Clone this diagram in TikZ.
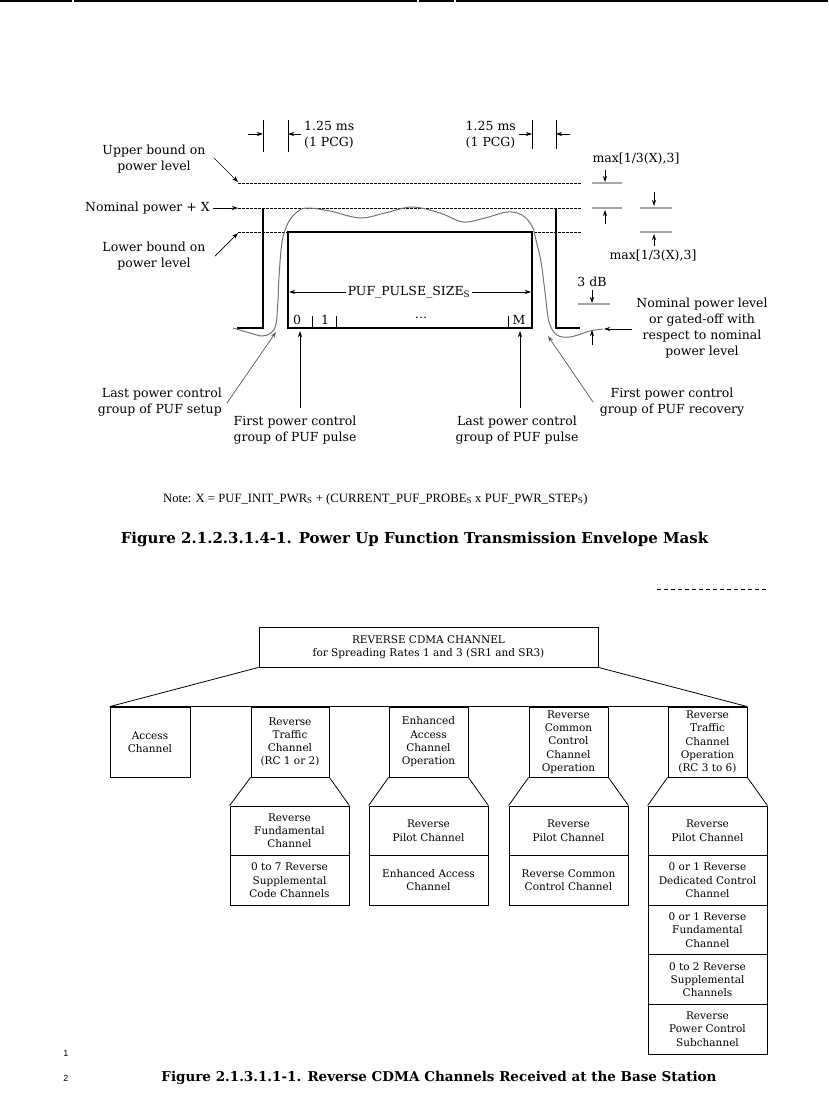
\documentclass[tikz,border=0pt]{standalone}
\usepackage{fontspec}
\setmainfont{DejaVu Serif}
\newfontfamily\timesf{Liberation Serif}
\newfontfamily\sansf{Liberation Sans}
\usetikzlibrary{arrows.meta}
\begin{document}
\begin{tikzpicture}[x=1pt,y=-1pt,
  thk/.style={line width=2pt},
  thn/.style={line width=0.8pt},
  dsh/.style={line width=0.8pt, dash pattern=on 2.5pt off 1.5pt},
  gryl/.style={line width=1.2pt, black!35},
  crv/.style={line width=1pt, black!55},
  arr/.style={line width=0.7pt, -{Stealth[length=6pt,width=4pt]}},
  garr/.style={line width=0.7pt, black!65, -{Stealth[length=6pt,width=4pt]}},
  tl/.style={font=\fontsize{12.5}{16}\selectfont, inner sep=0pt, align=center},
  bx/.style={draw, line width=0.8pt, font=\fontsize{10.5}{13.3}\selectfont, align=center, inner sep=0pt},
  figcap/.style={font=\bfseries\fontsize{13.5}{16}\selectfont, inner sep=0pt},
]
\useasboundingbox (0,0) rectangle (828,1098);
\fill[white] (0,0) rectangle (828,1098);

% header rule
\draw[line width=1.5pt] (0,1)--(72,1) (74,1)--(417,1) (419,1)--(454,1) (456,1)--(828,1);

% ===== top figure =====
\draw[thn] (263,120)--(263,152) (288,120)--(288,152) (532,120)--(532,149) (556,120)--(556,149);
\coordinate (tkA) at (263,134); \coordinate (tkB) at (288,134);
\coordinate (tkC) at (532,134); \coordinate (tkD) at (556,134);
\draw[arr] ([xshift=-15pt]tkA) -- (tkA);
\draw[arr] ([xshift=13pt]tkB) -- (tkB);
\draw[arr] ([xshift=-13pt]tkC) -- (tkC);
\draw[arr] ([xshift=14pt]tkD) -- (tkD);
\node[tl, anchor=west, align=left] (pcgL) at (304,135) {1.25 ms\\(1 PCG)};
\node[tl, anchor=east, align=left] (pcgR) at (516,135) {1.25 ms\\(1 PCG)};

\draw[dsh] (238,183)--(582,183);
\draw[dsh] (238,208)--(582,208);
\draw[dsh] (238,232)--(582,232);

\node[tl] (ub) at (154,159) {Upper bound on\\power level};
\node[tl, anchor=east] (npx) at (210,208) {Nominal power + X};
\node[tl] (lb) at (154,256) {Lower bound on\\power level};
\coordinate (ubT) at (238,182); \coordinate (npxT) at (238,208); \coordinate (lbT) at (238,233);
\draw[arr] (214,158) -- (ubT);
\draw[arr] (npx.east) ++(3,0) -- (npxT);
\draw[arr] (215,256) -- (lbT);

\draw[thk] (263,208)--(263,328)--(237,328);
\draw[thk] (556,208)--(556,328)--(580,328);
\draw[thk] (288,232) rectangle (532,328);

\draw[crv] plot[smooth, tension=0.55] coordinates {(233,328) (250,333) (262,336) (271,333) (276,324) (278,300) (279,277) (282,242) (288,223) (297,212) (307,208) (330,211) (360,218) (385,213) (412,207) (440,213) (463,222) (485,218) (507,212) (522,215) (532,226) (536,240) (541,262) (545,292) (549,322) (557,335) (570,337) (590,331) (603,329)};

\node[tl] (mx1) at (636,159) {max[1/3(X),3]};
\draw[gryl] (592,183)--(622,183) (592,208)--(622,208);
\draw[gryl] (640,208)--(672,208) (640,232)--(672,232);
\coordinate (d1a) at (605,183); \coordinate (d1b) at (605,208);
\coordinate (d2a) at (654,208); \coordinate (d2b) at (654,232);
\draw[arr] ([yshift=13pt]d1a) -- ([yshift=1pt]d1a);
\draw[arr] ([yshift=-16pt]d1b) -- ([yshift=-2pt]d1b);
\draw[arr] ([yshift=16pt]d2a) -- ([yshift=2pt]d2a);
\draw[arr] ([yshift=-14pt]d2b) -- ([yshift=-2pt]d2b);
\node[tl] (mx2) at (653,256) {max[1/3(X),3]};

\node[tl] (db3) at (592,282) {3 dB};
\draw[gryl] (578,304)--(610,304);
\coordinate (d3a) at (592,304); \coordinate (d3b) at (592,330);
\draw[arr] ([yshift=14pt]d3a) -- ([yshift=1pt]d3a);
\draw[arr] ([yshift=-15pt]d3b) -- (d3b);

\node[tl] (gat) at (702,328) {Nominal power level\\or gated-off with\\respect to nominal\\power level};
\coordinate (gatT) at (604,329);
\draw[arr] (632,329) -- (gatT);

\node[tl] (pps) at (409,292) {PUF\_PULSE\_SIZE\textsubscript{S}};
\coordinate (ppL) at (289,292); \coordinate (ppR) at (531,292);
\draw[arr] (pps.west) ++(-2,0) -- (ppL);
\draw[arr] (pps.east) ++(2,0) -- (ppR);

\draw[thn] (312,316)--(312,328) (336,316)--(336,328) (508,316)--(508,328);
\node[tl] (i0) at (297,320) {0};
\node[tl] (i1) at (325,320) {1};
\node[tl] (idots) at (421,318) {\dots};
\node[tl] (iM) at (519,320) {M};

\node[tl] (fpp) at (295,430) {First power control\\group of PUF pulse};
\node[tl] (lpp) at (517,430) {Last power control\\group of PUF pulse};
\node[tl, anchor=east, align=right] (lps) at (222,402) {Last power control\\group of PUF setup};
\node[tl] (fpr) at (672,402) {First power control\\group of PUF recovery};
\coordinate (fppT) at (300,331); \coordinate (lppT) at (520,331);
\coordinate (lpsT) at (276,332); \coordinate (fprT) at (548,336);
\draw[arr] (300,408) -- (fppT);
\draw[arr] (520,408) -- (lppT);
\draw[garr] (227,403) -- (lpsT);
\draw[garr] (593,402) -- (fprT);

\node[inner sep=0pt, anchor=west, font=\timesf\fontsize{12.7}{15}\selectfont] (note) at (163,499)
  {Note: X = PUF\_INIT\_PWR\textsubscript{S} + (CURRENT\_PUF\_PROBE\textsubscript{S} x PUF\_PWR\_STEP\textsubscript{S})};
\node[figcap, font=\bfseries\fontsize{15}{17}\selectfont] (cap1) at (414.5,539) {Figure 2.1.2.3.1.4-1. Power Up Function Transmission Envelope Mask};

% ===== bottom figure =====
\draw[line width=1pt, dash pattern=on 4pt off 3pt] (657,589)--(768,589);

\node[bx, minimum width=339pt, minimum height=40pt] (top) at (428.5,647) {REVERSE CDMA CHANNEL\\for Spreading Rates 1 and 3 (SR1 and SR3)};

\node[bx, minimum width=80pt, minimum height=70pt] (acc) at (150,742) {Access\\Channel};
\node[bx, minimum width=78pt, minimum height=70pt] (rtc) at (290,742) {Reverse\\Traffic\\Channel\\(RC 1 or 2)};
\node[bx, minimum width=79pt, minimum height=70pt] (eac) at (428.5,742) {Enhanced\\Access\\Channel\\Operation};
\node[bx, minimum width=79pt, minimum height=70pt] (rcc) at (568.5,742) {Reverse\\Common\\Control\\Channel\\Operation};
\node[bx, minimum width=79pt, minimum height=70pt] (rto) at (707.5,742) {Reverse\\Traffic\\Channel\\Operation\\(RC 3 to 6)};

\draw[thn] (top.south west) -- (acc.north west);
\draw[thn] (top.south east) -- (rto.north east);
\draw[thn] (acc.north west) -- (rto.north east);

\tikzset{lw/.style={bx, minimum width=119pt, minimum height=49.6pt}}
\node[lw] (c2a) at (289.5,830.8) {Reverse\\Fundamental\\Channel};
\node[lw] (c2b) at (289.5,880.4) {0 to 7 Reverse\\Supplemental\\Code Channels};
\node[lw] (c3a) at (428.5,830.8) {Reverse\\Pilot Channel};
\node[lw] (c3b) at (428.5,880.4) {Enhanced Access\\Channel};
\node[lw] (c4a) at (568.5,830.8) {Reverse\\Pilot Channel};
\node[lw] (c4b) at (568.5,880.4) {Reverse Common\\Control Channel};
\node[lw] (c5a) at (707.5,830.8) {Reverse\\Pilot Channel};
\node[lw] (c5b) at (707.5,880.4) {0 or 1 Reverse\\Dedicated Control\\Channel};
\node[lw] (c5c) at (707.5,930) {0 or 1 Reverse\\Fundamental\\Channel};
\node[lw] (c5d) at (707.5,979.6) {0 to 2 Reverse\\Supplemental\\Channels};
\node[lw] (c5e) at (707.5,1029.2) {Reverse\\Power Control\\Subchannel};

\foreach \u/\l in {rtc/c2a, eac/c3a, rcc/c4a, rto/c5a}{
  \draw[thn] (\u.south west) -- (\l.north west);
  \draw[thn] (\u.south east) -- (\l.north east);
}

\node[font=\sansf\fontsize{9}{9}\selectfont, inner sep=0pt] (ln1) at (66,1053) {1};
\node[font=\sansf\fontsize{9}{9}\selectfont, inner sep=0pt] (ln2) at (66,1078) {2};
\node[figcap] (cap2) at (439,1078) {Figure 2.1.3.1.1-1. Reverse CDMA Channels Received at the Base Station};
\end{tikzpicture}
\end{document}
